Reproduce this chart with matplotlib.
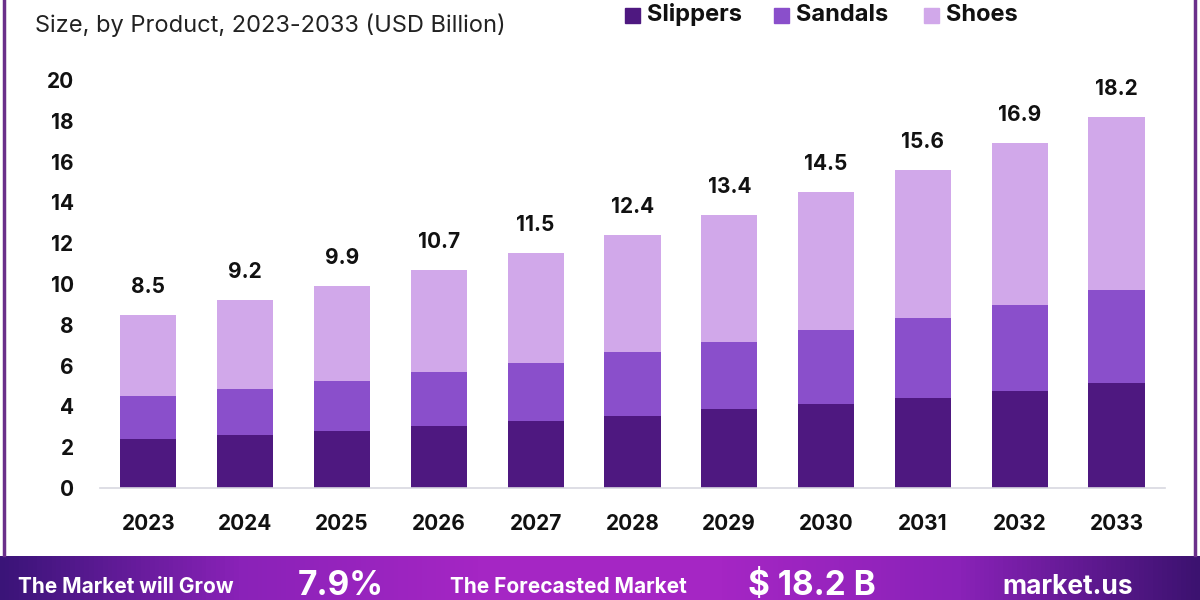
import numpy as np
import matplotlib.pyplot as plt
from matplotlib.colors import LinearSegmentedColormap

years = ["2023", "2024", "2025", "2026", "2027", "2028", "2029", "2030", "2031", "2032", "2033"]
slippers = [2.4, 2.6, 2.8, 3.05, 3.3, 3.55, 3.85, 4.1, 4.4, 4.75, 5.15]
sandals = [2.1, 2.25, 2.45, 2.65, 2.85, 3.1, 3.3, 3.65, 3.95, 4.2, 4.55]
totals = [8.5, 9.2, 9.9, 10.7, 11.5, 12.4, 13.4, 14.5, 15.6, 16.9, 18.2]
shoes = [round(t - a - b, 2) for t, a, b in zip(totals, slippers, sandals)]
yticks = [0, 2, 4, 6, 8, 10, 12, 14, 16, 18, 20]

c_slip = "#4e1880"
c_sand = "#8a4fcb"
c_shoe = "#d1a8ea"

plt.rcParams["font.family"] = ["Inter", "DejaVu Sans"]

fig = plt.figure(figsize=(12, 6), dpi=100)
ax = fig.add_axes([0.0833, 0.1867, 0.8875, 0.68])

x = np.arange(len(years))
w = 0.58
ax.bar(x, slippers, w, color=c_slip, zorder=2)
ax.bar(x, sandals, w, bottom=slippers, color=c_sand, zorder=2)
bottoms = [a + b for a, b in zip(slippers, sandals)]
ax.bar(x, shoes, w, bottom=bottoms, color=c_shoe, zorder=2)

for i, t in enumerate(totals):
    ax.annotate(f"{t}", (x[i], t), xytext=(0, 13), textcoords="offset points",
                ha="center", va="bottom", fontsize=15, fontweight="bold",
                color="#111111", annotation_clip=False)

ax.set_xlim(-0.5, 10.5)
ax.set_ylim(0, 20)
ax.set_xticks(x)
ax.set_xticklabels(years, fontsize=15, fontweight="bold", color="#111111")
ax.set_yticks(yticks)
ax.set_yticklabels([str(v) for v in yticks], fontsize=15, fontweight="bold", color="#111111")
ax.tick_params(axis="both", length=0)
ax.tick_params(axis="x", pad=19)
ax.tick_params(axis="y", pad=19)
for s in ["top", "right", "left"]:
    ax.spines[s].set_visible(False)
ax.spines["bottom"].set_color("#d8d8e0")
ax.spines["bottom"].set_linewidth(1.2)

# titulo e legenda
fig.text(0.029, 0.958, "Size, by Product, 2023-2033 (USD Billion)", fontsize=17,
         color="#222222", va="center", ha="left")
leg_items = [("Slippers", c_slip, 0.521), ("Sandals", c_sand, 0.645), ("Shoes", c_shoe, 0.770)]
for nome, cor, xp in leg_items:
    fig.patches.append(plt.Rectangle((xp, 0.962), 0.0125, 0.025, transform=fig.transFigure,
                                     color=cor, figure=fig))
    fig.text(xp + 0.018, 0.975, nome, fontsize=17, fontweight="bold", color="#111111",
             va="center", ha="left")

# bordas laterais
fig.add_artist(plt.Line2D([0.003, 0.003], [0.075, 1.0], color="#6a2f8a", lw=2.5))
fig.add_artist(plt.Line2D([0.996, 0.996], [0.075, 1.0], color="#6a2f8a", lw=2.5))

# faixa inferior com gradiente
bax = fig.add_axes([0, 0, 1, 0.074])
cmap = LinearSegmentedColormap.from_list("faixa", ["#3a1478", "#8a22b8", "#a526c4", "#a526c4", "#8a22b8", "#3c1270"])
grad = np.linspace(0, 1, 256).reshape(1, -1)
bax.imshow(grad, aspect="auto", cmap=cmap, extent=[0, 1, 0, 1])
bax.set_xlim(0, 1)
bax.set_ylim(0, 1)
bax.axis("off")
bax.text(0.015, 0.3, "The Market will Grow", color="white", fontsize=15, fontweight="bold", va="center")
bax.text(0.248, 0.32, "7.9%", color="white", fontsize=24, fontweight="bold", va="center")
bax.text(0.375, 0.3, "The Forecasted Market", color="white", fontsize=15, fontweight="bold", va="center")
bax.text(0.623, 0.32, "$ 18.2 B", color="white", fontsize=24, fontweight="bold", va="center")
bax.text(0.835, 0.3, "market.us", color="white", fontsize=19, fontweight="bold", va="center")

fig.savefig("out.png", dpi=100)
